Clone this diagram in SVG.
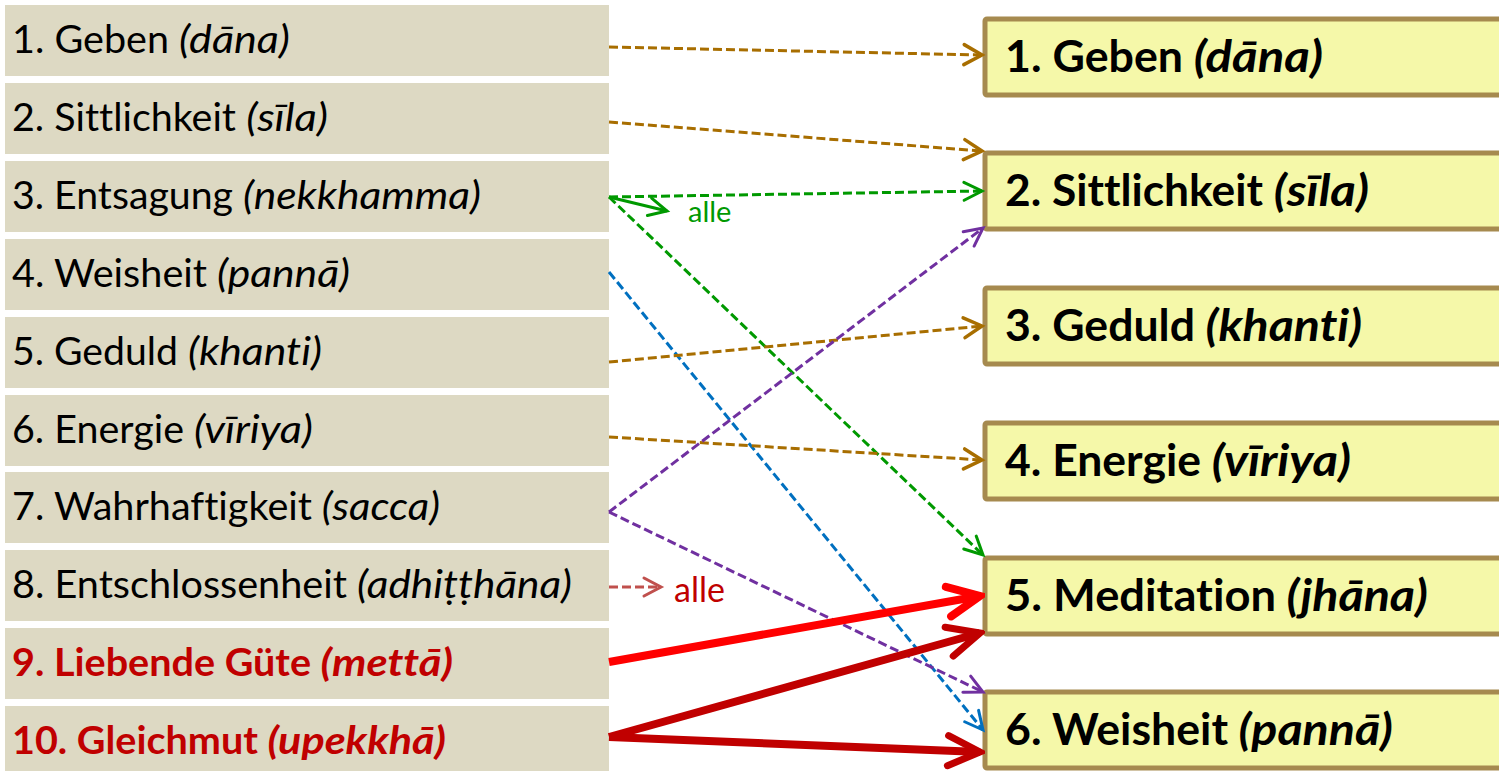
<svg xmlns="http://www.w3.org/2000/svg" width="1499" height="771" viewBox="0 0 1499 771">
<style>
text{font-variant-ligatures:none;font-feature-settings:"liga" 0,"clig" 0}
.lb{fill:#DDD9C3}
.rb{fill:#F5F8A9;stroke:#A68A4F;stroke-width:5}
.lt{font-family:Lato,Roboto,"Open Sans",sans-serif;font-size:39px;fill:#000}
.lt.red{font-weight:bold;fill:#C00000}
.rt{font-family:Lato,Roboto,"Open Sans",sans-serif;font-size:44px;font-weight:bold;fill:#000}
.it{font-style:italic}
.d{fill:none;stroke-width:3;stroke-dasharray:9 4}
.s{fill:none;stroke-width:3}
.brown{stroke:#A86E00}
.green{stroke:#009900}
.blue{stroke:#0070C0}
.purple{stroke:#7030A0}
.pink{stroke:#C0504D}
.thick{fill:none;stroke-width:8}
.lbl{font-family:Lato,Roboto,"Open Sans",sans-serif}
</style>
<defs>
<marker id="mBrown" markerUnits="userSpaceOnUse" viewBox="-25 -15 30 30" refX="0" refY="0" markerWidth="30" markerHeight="30" orient="auto"><path d="M-18,-10 L0,0 L-18,10" fill="none" stroke="#A86E00" stroke-width="3.5" stroke-linecap="round"/></marker>
<marker id="mGreen" markerUnits="userSpaceOnUse" viewBox="-25 -15 30 30" refX="0" refY="0" markerWidth="30" markerHeight="30" orient="auto"><path d="M-18,-9 L0,0 L-18,9" fill="none" stroke="#009900" stroke-width="3" stroke-linecap="round"/></marker>
<marker id="mBlue" markerUnits="userSpaceOnUse" viewBox="-25 -15 30 30" refX="0" refY="0" markerWidth="30" markerHeight="30" orient="auto"><path d="M-18,-9 L0,0 L-18,9" fill="none" stroke="#0070C0" stroke-width="3" stroke-linecap="round"/></marker>
<marker id="mPurple" markerUnits="userSpaceOnUse" viewBox="-25 -15 30 30" refX="0" refY="0" markerWidth="30" markerHeight="30" orient="auto"><path d="M-18,-9 L0,0 L-18,9" fill="none" stroke="#7030A0" stroke-width="3" stroke-linecap="round"/></marker>
<marker id="mPink" markerUnits="userSpaceOnUse" viewBox="-25 -15 30 30" refX="0" refY="0" markerWidth="30" markerHeight="30" orient="auto"><path d="M-17,-9 L0,0 L-17,9" fill="none" stroke="#C0504D" stroke-width="3" stroke-linecap="round"/></marker>
<marker id="mRed" markerUnits="userSpaceOnUse" viewBox="-45 -25 50 50" refX="0" refY="0" markerWidth="50" markerHeight="50" orient="auto"><path d="M-32,-15 L0,0 L-32,15" fill="none" stroke="#FF0000" stroke-width="8" stroke-linecap="round" stroke-linejoin="miter"/></marker>
<marker id="mDark" markerUnits="userSpaceOnUse" viewBox="-45 -25 50 50" refX="0" refY="0" markerWidth="50" markerHeight="50" orient="auto"><path d="M-32,-15 L0,0 L-32,15" fill="none" stroke="#C00000" stroke-width="7" stroke-linecap="round" stroke-linejoin="miter"/></marker>
</defs>
<rect width="1499" height="771" fill="#FFFFFF"/>

<g id="L1"><rect class="lb" x="5" y="5" width="604" height="71"/><text class="lt" y="53"><tspan x="12" textLength="157" lengthAdjust="spacingAndGlyphs">1. Geben</tspan><tspan class="it" x="169" textLength="121" lengthAdjust="spacingAndGlyphs"> (dāna)</tspan></text></g>
<g id="L2"><rect class="lb" x="5" y="83" width="604" height="71"/><text class="lt" y="131"><tspan x="12" textLength="224" lengthAdjust="spacingAndGlyphs">2. Sittlichkeit</tspan><tspan class="it" x="236" textLength="92" lengthAdjust="spacingAndGlyphs"> (sīla)</tspan></text></g>
<g id="L3"><rect class="lb" x="5" y="161" width="604" height="71"/><text class="lt" y="209"><tspan x="12" textLength="221" lengthAdjust="spacingAndGlyphs">3. Entsagung</tspan><tspan class="it" x="233" textLength="248" lengthAdjust="spacingAndGlyphs"> (nekkhamma)</tspan></text></g>
<g id="L4"><rect class="lb" x="5" y="239" width="604" height="71"/><text class="lt" y="287"><tspan x="12" textLength="195" lengthAdjust="spacingAndGlyphs">4. Weisheit</tspan><tspan class="it" x="207" textLength="143" lengthAdjust="spacingAndGlyphs"> (pannā)</tspan></text></g>
<g id="L5"><rect class="lb" x="5" y="317" width="604" height="71"/><text class="lt" y="365"><tspan x="12" textLength="166" lengthAdjust="spacingAndGlyphs">5. Geduld</tspan><tspan class="it" x="178" textLength="144" lengthAdjust="spacingAndGlyphs"> (khanti)</tspan></text></g>
<g id="L6"><rect class="lb" x="5" y="395" width="604" height="71"/><text class="lt" y="443"><tspan x="12" textLength="172" lengthAdjust="spacingAndGlyphs">6. Energie</tspan><tspan class="it" x="184" textLength="129" lengthAdjust="spacingAndGlyphs"> (vīriya)</tspan></text></g>
<g id="L7"><rect class="lb" x="5" y="472" width="604" height="71"/><text class="lt" y="520"><tspan x="12" textLength="300" lengthAdjust="spacingAndGlyphs">7. Wahrhaftigkeit</tspan><tspan class="it" x="312" textLength="128" lengthAdjust="spacingAndGlyphs"> (sacca)</tspan></text></g>
<g id="L8"><rect class="lb" x="5" y="550" width="604" height="71"/><text class="lt" y="598"><tspan x="12" textLength="335" lengthAdjust="spacingAndGlyphs">8. Entschlossenheit</tspan><tspan class="it" x="347" textLength="225" lengthAdjust="spacingAndGlyphs"> (adhiṭṭhāna)</tspan></text></g>
<g id="L9"><rect class="lb" x="5" y="628" width="604" height="71"/><text class="lt red" y="676"><tspan x="12" textLength="299" lengthAdjust="spacingAndGlyphs">9. Liebende Güte</tspan><tspan class="it" x="311" textLength="142" lengthAdjust="spacingAndGlyphs"> (mettā)</tspan></text></g>
<g id="L10"><rect class="lb" x="5" y="706" width="604" height="71"/><text class="lt red" y="754"><tspan x="12" textLength="246" lengthAdjust="spacingAndGlyphs">10. Gleichmut</tspan><tspan class="it" x="258" textLength="188" lengthAdjust="spacingAndGlyphs"> (upekkhā)</tspan></text></g>

<g id="R1"><rect class="rb" x="985" y="19" width="530" height="76" rx="2"/><text class="rt" y="72"><tspan x="1005" textLength="178" lengthAdjust="spacingAndGlyphs">1. Geben</tspan><tspan class="it" x="1183" textLength="140" lengthAdjust="spacingAndGlyphs"> (dāna)</tspan></text></g>
<g id="R2"><rect class="rb" x="985" y="153" width="530" height="76" rx="2"/><text class="rt" y="206"><tspan x="1005" textLength="258" lengthAdjust="spacingAndGlyphs">2. Sittlichkeit</tspan><tspan class="it" x="1263" textLength="106" lengthAdjust="spacingAndGlyphs"> (sīla)</tspan></text></g>
<g id="R3"><rect class="rb" x="985" y="288" width="530" height="76" rx="2"/><text class="rt" y="341"><tspan x="1005" textLength="190" lengthAdjust="spacingAndGlyphs">3. Geduld</tspan><tspan class="it" x="1195" textLength="167" lengthAdjust="spacingAndGlyphs"> (khanti)</tspan></text></g>
<g id="R4"><rect class="rb" x="985" y="423" width="530" height="76" rx="2"/><text class="rt" y="476"><tspan x="1005" textLength="196" lengthAdjust="spacingAndGlyphs">4. Energie</tspan><tspan class="it" x="1201" textLength="150" lengthAdjust="spacingAndGlyphs"> (vīriya)</tspan></text></g>
<g id="R5"><rect class="rb" x="985" y="558" width="530" height="76" rx="2"/><text class="rt" y="611"><tspan x="1005" textLength="271" lengthAdjust="spacingAndGlyphs">5. Meditation</tspan><tspan class="it" x="1276" textLength="152" lengthAdjust="spacingAndGlyphs"> (jhāna)</tspan></text></g>
<g id="R6"><rect class="rb" x="985" y="692" width="530" height="76" rx="2"/><text class="rt" y="745"><tspan x="1005" textLength="223" lengthAdjust="spacingAndGlyphs">6. Weisheit</tspan><tspan class="it" x="1228" textLength="165" lengthAdjust="spacingAndGlyphs"> (pannā)</tspan></text></g>

<g id="connectors">
<line class="d brown" x1="609" y1="47" x2="982" y2="55" marker-end="url(#mBrown)"/>
<line class="d brown" x1="609" y1="122" x2="982" y2="151" marker-end="url(#mBrown)"/>
<line class="d green" x1="609" y1="197" x2="982" y2="191" marker-end="url(#mGreen)"/>
<line class="s green" x1="609" y1="197" x2="667" y2="211" marker-end="url(#mGreen)"/>
<line class="d green" x1="609" y1="197" x2="983" y2="555" marker-end="url(#mGreen)"/>
<line class="d blue" x1="609" y1="272" x2="983" y2="730" marker-end="url(#mBlue)"/>
<line class="d brown" x1="609" y1="362" x2="982" y2="326" marker-end="url(#mBrown)"/>
<line class="d brown" x1="609" y1="437" x2="982" y2="460" marker-end="url(#mBrown)"/>
<line class="d purple" x1="609" y1="512" x2="983" y2="228" marker-end="url(#mPurple)"/>
<line class="d purple" x1="609" y1="512" x2="983" y2="692" marker-end="url(#mPurple)"/>
<line class="d pink" x1="609" y1="587" x2="661" y2="587" marker-end="url(#mPink)"/>
<line class="thick" stroke="#FF0000" x1="609" y1="662" x2="980" y2="596" marker-end="url(#mRed)"/>
<line class="thick" stroke="#C00000" stroke-width="7" x1="609" y1="737" x2="980" y2="633" marker-end="url(#mDark)"/>
<line class="thick" stroke="#C00000" stroke-width="7" x1="609" y1="737" x2="980" y2="752" marker-end="url(#mDark)"/>
<text class="lbl" x="688" y="222" font-size="29" fill="#009900">alle</text>
<text class="lbl" x="674" y="602" font-size="34" fill="#C00000">alle</text>
</g>
</svg>
